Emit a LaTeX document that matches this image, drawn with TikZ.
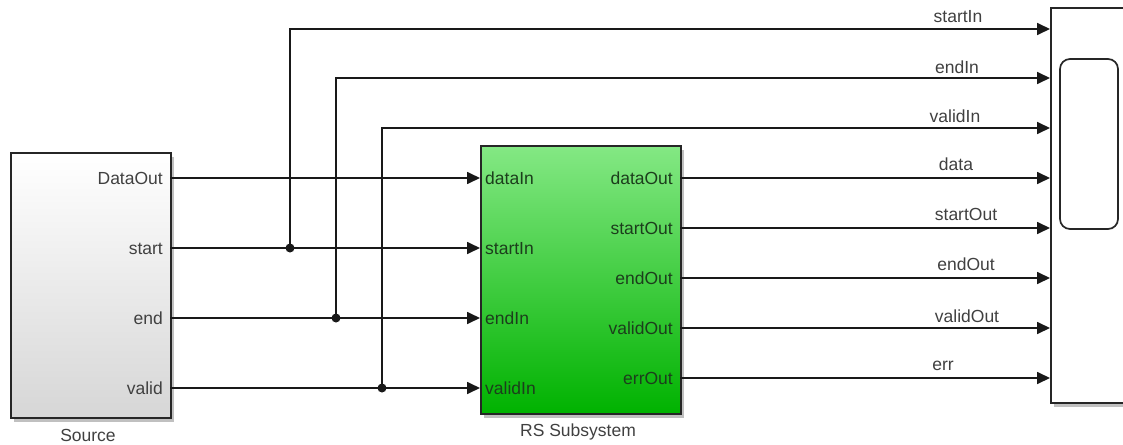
\documentclass[tikz,border=0pt]{standalone}
\usepackage{fontspec}
\setmainfont{Liberation Sans}
\usepackage{xcolor}
\usetikzlibrary{arrows.meta,positioning,shadows}

\definecolor{rsTop}{RGB}{132,232,132}
\definecolor{rsBot}{RGB}{0,178,0}
\definecolor{rsText}{RGB}{28,62,28}
\definecolor{wire}{RGB}{25,25,25}

\begin{document}
\begin{tikzpicture}[x=1pt, y=-1pt,
  blk/.style={draw=black!85, line width=1.7pt, inner sep=0pt, anchor=north west,
    drop shadow={shadow xshift=3.5pt, shadow yshift=-4pt, opacity=0.45, fill=black!55}},
  sig/.style={line width=1.7pt, draw=wire},
  arr/.style={sig, -{Triangle[length=13pt,width=12pt]}},
  txt/.style={font=\fontsize{17.5}{20}\selectfont, text=black!75, inner sep=0pt},
  jdot/.style={circle, fill=wire, inner sep=0pt, minimum size=9pt}
]
\useasboundingbox (0,0) rectangle (1123,444);
\clip (0,0) rectangle (1123,444);

\node[blk, top color=white, bottom color=black!16, minimum width=160pt, minimum height=265pt] (src) at (10,152) {};
\node[blk, top color=rsTop, bottom color=rsBot, minimum width=200pt, minimum height=268pt] (rs) at (480,145) {};
\node[blk, fill=white, minimum width=110pt, minimum height=395pt] (scope) at (1050,7) {};
\draw[line width=1.7pt, draw=black!85, rounded corners=10pt] (1060,59) rectangle (1118,229);

\node[txt, anchor=base] (src-name) at (88,441) {Source};
\node[txt, anchor=base] (rs-name) at (578,436) {RS Subsystem};

\foreach \y/\t/\n in {178/DataOut/data, 248/start/start, 318/end/end, 388/valid/valid} {
  \coordinate (s-\n) at (170,\y);
  \node[txt, anchor=base east] (sl-\n) at (163,\y+6.3) {\t};
}
\foreach \y/\t in {178/dataIn, 248/startIn, 318/endIn, 388/validIn} {
  \coordinate (rs-\t) at (480,\y);
  \node[txt, text=rsText, anchor=base west] (rl-\t) at (485,\y+6.3) {\t};
}
\foreach \y/\t in {178/dataOut, 228/startOut, 278/endOut, 328/validOut, 378/errOut} {
  \coordinate (rs-\t) at (680,\y);
  \node[txt, text=rsText, anchor=base east] (rl-\t) at (673,\y+6.3) {\t};
}
\foreach \y [count=\i] in {29,78,128,178,228,278,328,378}
  \coordinate (sc-\i) at (1050,\y);

\foreach \x/\y/\t in {958/22.7/startIn, 957/74/endIn, 955/122.7/validIn, 956/170/data,
    966/220.7/startOut, 966/270.7/endOut, 967/322.7/validOut, 943/370/err}
  \node[txt, anchor=base] (w-\t) at (\x,\y) {\t};

\node[jdot] (j-start) at (290,248) {};
\node[jdot] (j-end) at (336,318) {};
\node[jdot] (j-valid) at (382,388) {};

\draw[arr] (s-data) -- (rs-dataIn);
\draw[arr] (s-start) -- (rs-startIn);
\draw[arr] (s-end) -- (rs-endIn);
\draw[arr] (s-valid) -- (rs-validIn);
\draw[arr] (j-start.center) |- (sc-1);
\draw[arr] (j-end.center) |- (sc-2);
\draw[arr] (j-valid.center) |- (sc-3);
\draw[arr] (rs-dataOut) -- (sc-4);
\draw[arr] (rs-startOut) -- (sc-5);
\draw[arr] (rs-endOut) -- (sc-6);
\draw[arr] (rs-validOut) -- (sc-7);
\draw[arr] (rs-errOut) -- (sc-8);
\end{tikzpicture}
\end{document}
